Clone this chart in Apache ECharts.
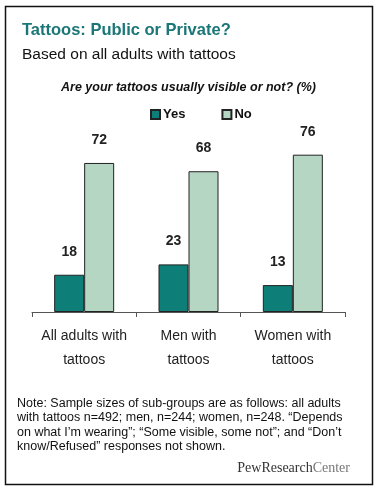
<!DOCTYPE html>
<html>
<head>
<meta charset="utf-8">
<script src="https://cdn.jsdelivr.net/npm/echarts@6/dist/echarts.min.js"></script>
<style>
  html, body { margin: 0; padding: 0; background: #fff; }
  #chart { width: 377px; height: 490px; }
</style>
</head>
<body>
<div id="chart"></div>
<script>
// --- Data ---
const categories = ['All adults with\ntattoos', 'Men with\ntattoos', 'Women with\ntattoos'];
const yesValues = [18, 23, 13];
const noValues = [72, 68, 76];
const seriesNames = ['Yes', 'No'];

const noteLines = [
  'Note: Sample sizes of sub-groups are as follows: all adults',
  'with tattoos n=492; men, n=244; women, n=248. \u201cDepends',
  'on what I\u2019m wearing\u201d; \u201cSome visible, some not\u201d; and \u201cDon\u2019t',
  'know/Refused\u201d responses not shown.'
];

const FONT = 'Liberation Sans';

const chart = echarts.init(document.getElementById('chart'), null, { renderer: 'canvas' });

chart.setOption({
  backgroundColor: '#fff',
  animation: false,
  title: {
    text: 'Tattoos: Public or Private?',
    subtext: 'Based on all adults with tattoos',
    left: 17,
    top: 17,
    itemGap: 8,
    textStyle: { color: '#1b7677', fontFamily: FONT, fontSize: 16.5, fontWeight: 'bold' },
    subtextStyle: { color: '#111', fontFamily: FONT, fontSize: 15.5 }
  },
  legend: {
    data: seriesNames,
    left: 145,
    top: 103,
    itemWidth: 9,
    itemHeight: 9,
    itemGap: 36,
    icon: 'rect',
    textStyle: { color: '#111', fontFamily: FONT, fontSize: 13, fontWeight: 'bold', padding: [0, 0, 0, -2] }
  },
  grid: { left: 32, right: 32, top: 105, bottom: 178 },
  xAxis: {
    type: 'category',
    data: categories,
    axisLine: { lineStyle: { color: '#555', width: 1 } },
    axisTick: { show: true, length: 5, lineStyle: { color: '#555' } },
    axisLabel: { interval: 0, color: '#222', fontFamily: FONT, fontSize: 14, lineHeight: 24, margin: 12 }
  },
  yAxis: {
    type: 'value',
    min: 0,
    max: 100,
    show: false
  },
  series: [
    {
      name: 'Yes',
      type: 'bar',
      data: yesValues,
      barWidth: 30,
      barGap: '0%',
      itemStyle: { color: '#0e7f78', borderColor: '#222', borderWidth: 1 },
      label: { show: true, position: 'top', distance: 16, color: '#222', fontFamily: FONT, fontSize: 14, fontWeight: 'bold' }
    },
    {
      name: 'No',
      type: 'bar',
      data: noValues,
      barWidth: 30,
      barGap: '0%',
      itemStyle: { color: '#b6d6c4', borderColor: '#222', borderWidth: 1 },
      label: { show: true, position: 'top', distance: 16, color: '#222', fontFamily: FONT, fontSize: 14, fontWeight: 'bold' }
    }
  ],
  graphic: [
    {
      type: 'rect',
      shape: { x: 5.5, y: 6.5, width: 367, height: 478 },
      style: { fill: 'none', stroke: '#111', lineWidth: 1.5 },
      silent: true
    },
    {
      type: 'text',
      left: 'center',
      top: 81,
      style: {
        text: 'Are your tattoos usually visible or not? (%)',
        fill: '#111',
        font: 'italic bold 12.5px ' + FONT
      }
    },
    {
      type: 'text',
      left: 17,
      top: 396,
      style: {
        text: noteLines.join('\n'),
        fill: '#111',
        font: '12.5px ' + FONT,
        lineHeight: 14.5
      }
    },
    {
      type: 'text',
      right: 27,
      top: 461,
      style: {
        text: '{a|PewResearch}{b|Center}',
        rich: {
          a: { fill: '#333', fontFamily: 'Liberation Serif', fontSize: 14 },
          b: { fill: '#777', fontFamily: 'Liberation Serif', fontSize: 14 }
        }
      }
    }
  ]
});

window.addEventListener('resize', () => chart.resize());
</script>
</body>
</html>
